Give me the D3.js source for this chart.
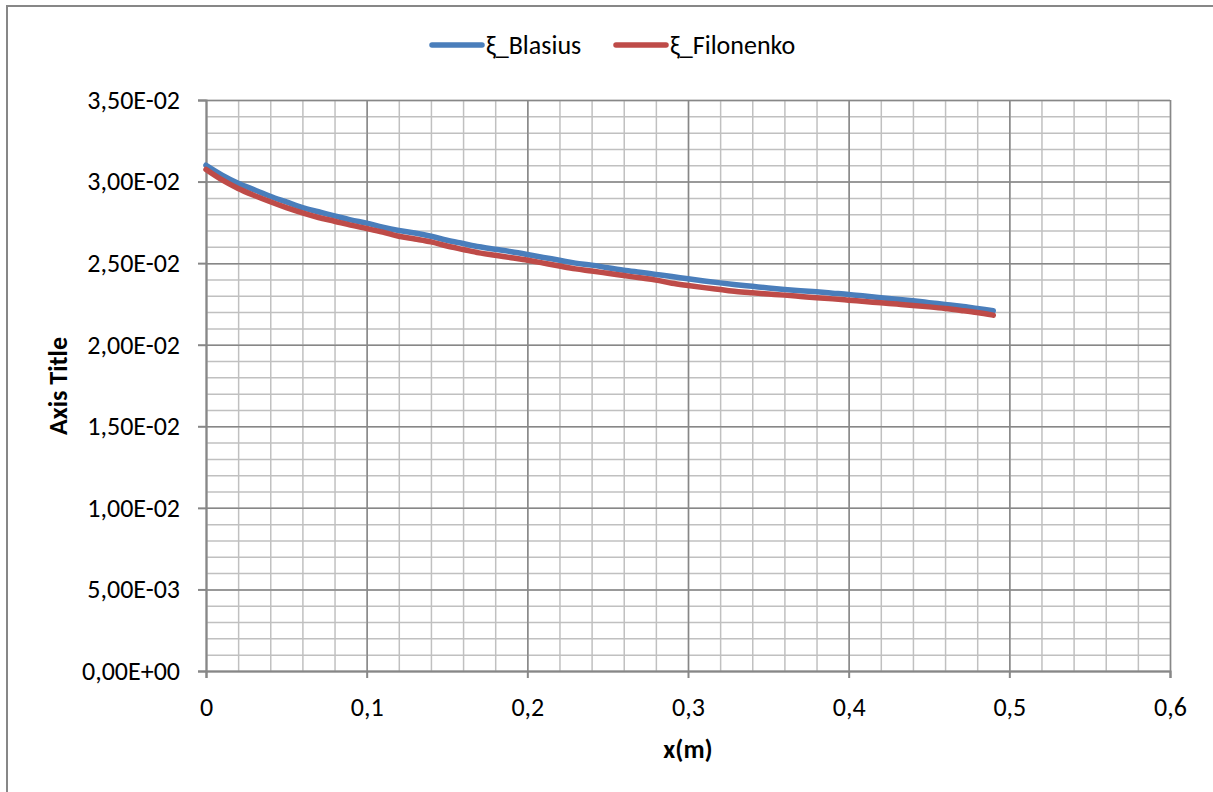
<!DOCTYPE html>
<html>
<head>
<meta charset="utf-8">
<script src="https://cdn.jsdelivr.net/npm/d3@7"></script>
<style>
  html, body { margin: 0; padding: 0; background: #fff; }
  svg { display: block; }
  text { font-family: Carlito, Calibri, Lato, "Open Sans", sans-serif; fill: #000; }
</style>
</head>
<body>
<script>
// ---- data ----
const xValues = [0.00,0.01,0.02,0.03,0.04,0.05,0.06,0.07,0.08,0.09,
                 0.10,0.11,0.12,0.13,0.14,0.15,0.16,0.17,0.18,0.19,
                 0.20,0.21,0.22,0.23,0.24,0.25,0.26,0.27,0.28,0.29,
                 0.30,0.31,0.32,0.33,0.34,0.35,0.36,0.37,0.38,0.39,
                 0.40,0.41,0.42,0.43,0.44,0.45,0.46,0.47,0.48,0.49];
const blasius = [0.03100,0.03040,0.02990,0.02950,0.02910,0.02875,0.02840,0.02815,0.02790,0.02765,
                 0.02745,0.02720,0.02700,0.02685,0.02665,0.02640,0.02620,0.02600,0.02585,0.02570,
                 0.02553,0.02535,0.02518,0.02500,0.02488,0.02472,0.02457,0.02444,0.02431,0.02418,
                 0.02404,0.02391,0.02379,0.02368,0.02358,0.02348,0.02339,0.02331,0.02324,0.02316,
                 0.02308,0.02298,0.02288,0.02279,0.02269,0.02258,0.02247,0.02236,0.02222,0.02208];
const filonenko = [0.03074,0.03010,0.02958,0.02915,0.02876,0.02840,0.02808,0.02780,0.02757,0.02733,
                   0.02712,0.02690,0.02665,0.02648,0.02630,0.02605,0.02584,0.02563,0.02548,0.02533,
                   0.02518,0.02500,0.02482,0.02465,0.02452,0.02438,0.02424,0.02410,0.02396,0.02377,
                   0.02363,0.02350,0.02338,0.02326,0.02318,0.02311,0.02304,0.02296,0.02288,0.02281,
                   0.02273,0.02265,0.02257,0.02249,0.02241,0.02232,0.02222,0.02210,0.02197,0.02181];
const seriesNames = ["ξ_Blasius", "ξ_Filonenko"];
const seriesColors = ["#4A7EBB", "#BE4B48"];
const xTicks = [0, 0.1, 0.2, 0.3, 0.4, 0.5, 0.6];
const xTickLabels = ["0", "0,1", "0,2", "0,3", "0,4", "0,5", "0,6"];
const yTicks = [0, 0.005, 0.01, 0.015, 0.02, 0.025, 0.03, 0.035];
const yTickLabels = ["0,00E+00", "5,00E-03", "1,00E-02", "1,50E-02", "2,00E-02", "2,50E-02", "3,00E-02", "3,50E-02"];
const xTitle = "x(m)";
const yTitle = "Axis Title";

// ---- layout ----
const W = 1213, H = 792;
const plot = { left: 206, right: 1170, top: 100, bottom: 671 };
const FS = 26;

const svg = d3.select("body").append("svg").attr("width", W).attr("height", H);

// chart border
svg.append("rect").attr("x", 7).attr("y", 6).attr("width", 1220).attr("height", 800)
  .attr("fill", "#fff").attr("stroke", "#878787").attr("stroke-width", 2);

const x = d3.scaleLinear().domain([0, 0.6]).range([plot.left, plot.right]);
const y = d3.scaleLinear().domain([0, 0.035]).range([plot.bottom, plot.top]);

// minor gridlines
const xMinor = d3.range(0, 31).map(i => i * 0.02);
const yMinor = d3.range(0, 36).map(i => i * 0.001);
svg.append("g").attr("transform", `translate(0,${plot.bottom})`)
  .call(d3.axisBottom(x).tickValues(xMinor).tickSize(-(plot.bottom - plot.top)).tickFormat(""))
  .call(g => g.select(".domain").remove())
  .call(g => g.selectAll("line").attr("stroke", "#C0C0C0").attr("stroke-width", 1.5));
svg.append("g").attr("transform", `translate(${plot.left},0)`)
  .call(d3.axisLeft(y).tickValues(yMinor).tickSize(-(plot.right - plot.left)).tickFormat(""))
  .call(g => g.select(".domain").remove())
  .call(g => g.selectAll("line").attr("stroke", "#C0C0C0").attr("stroke-width", 1.5));

// major gridlines
svg.append("g").attr("transform", `translate(0,${plot.bottom})`)
  .call(d3.axisBottom(x).tickValues(xTicks).tickSize(-(plot.bottom - plot.top)).tickFormat(""))
  .call(g => g.select(".domain").remove())
  .call(g => g.selectAll("line").attr("stroke", "#878787").attr("stroke-width", 1.5));
svg.append("g").attr("transform", `translate(${plot.left},0)`)
  .call(d3.axisLeft(y).tickValues(yTicks).tickSize(-(plot.right - plot.left)).tickFormat(""))
  .call(g => g.select(".domain").remove())
  .call(g => g.selectAll("line").attr("stroke", "#878787").attr("stroke-width", 1.5));

// axes
svg.append("g").attr("transform", `translate(0,${plot.bottom})`)
  .call(d3.axisBottom(x).tickValues(xTicks).tickSize(7).tickPadding(20)
    .tickFormat((d, i) => xTickLabels[i]))
  .call(g => g.select(".domain").attr("stroke", "#878787").attr("stroke-width", 2))
  .call(g => g.selectAll("line").attr("stroke", "#878787").attr("stroke-width", 2))
  .call(g => g.selectAll("text").attr("font-size", FS));
svg.append("g").attr("transform", `translate(${plot.left},0)`)
  .call(d3.axisLeft(y).tickValues(yTicks).tickSize(8).tickPadding(18)
    .tickFormat((d, i) => yTickLabels[i]))
  .call(g => g.select(".domain").attr("stroke", "#878787").attr("stroke-width", 2))
  .call(g => g.selectAll("line").attr("stroke", "#878787").attr("stroke-width", 2))
  .call(g => g.selectAll("text").attr("font-size", FS));

// lines
const seriesData = [blasius, filonenko];
const line = d3.line().x(d => x(d[0])).y(d => y(d[1])).curve(d3.curveMonotoneX);
seriesData.forEach((vals, s) => {
  svg.append("path")
    .datum(xValues.map((xv, i) => [xv, vals[i]]))
    .attr("fill", "none")
    .attr("stroke", seriesColors[s])
    .attr("stroke-width", 5.5)
    .attr("stroke-linecap", "round")
    .attr("stroke-linejoin", "round")
    .attr("d", line);
});

// titles
svg.append("text").attr("x", (plot.left + plot.right) / 2).attr("y", 758)
  .attr("text-anchor", "middle").attr("font-size", FS).attr("font-weight", "bold").text(xTitle);
svg.append("text").attr("transform", `translate(67,386) rotate(-90)`)
  .attr("text-anchor", "middle").attr("font-size", FS).attr("font-weight", "bold").text(yTitle);

// legend
const legendItems = [{ x: 432, tx: 486 }, { x: 616, tx: 670 }];
legendItems.forEach((it, i) => {
  svg.append("line").attr("x1", it.x).attr("x2", it.x + 50).attr("y1", 45).attr("y2", 45)
    .attr("stroke", seriesColors[i]).attr("stroke-width", 5.5).attr("stroke-linecap", "round");
  svg.append("text").attr("x", it.tx).attr("y", 54).attr("font-size", FS).text(seriesNames[i]);
});
</script>
</body>
</html>
